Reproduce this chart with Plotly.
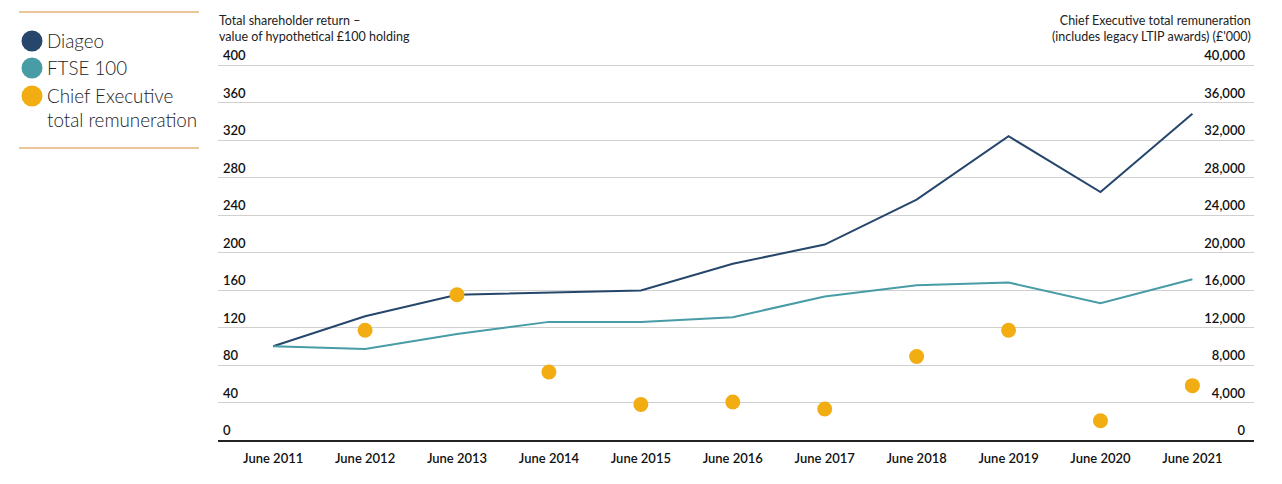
import plotly.graph_objects as go

years = ["June 2011", "June 2012", "June 2013", "June 2014", "June 2015", "June 2016",
         "June 2017", "June 2018", "June 2019", "June 2020", "June 2021"]
diageo = [100, 132, 155, 157.5, 159.5, 188, 208.5, 256.5, 324, 264.5, 348]
ftse = [100, 97, 113, 126, 126, 131, 153, 165, 168, 146, 171.5]
ceo_pay = [None, 11700, 15500, 7250, 3800, 4050, 3300, 8900, 11700, 2050, 5800]

left_ticks = [0, 40, 80, 120, 160, 200, 240, 280, 320, 360, 400]
right_ticks = [0, 4000, 8000, 12000, 16000, 20000, 24000, 28000, 32000, 36000, 40000]

legend_names = ["Diageo", "FTSE 100", "Chief Executive<br>total remuneration"]
NAVY = "#26466C"
TEAL = "#479CA5"
AMBER = "#F1AD12"
TAN = "#E3B274"
legend_colors = [NAVY, TEAL, AMBER]

FONT = "Lato, Open Sans, sans-serif"
xs = list(range(len(years)))

W, H = 1282, 484
L, R, T, B = 218, 28, 46, 44
pw, ph = W - L - R, H - T - B
px_per_unit = 375 / 400.0
ytop = ph / px_per_unit

fig = go.Figure()
fig.add_trace(go.Scatter(x=xs, y=diageo, mode="lines", line=dict(color=NAVY, width=2),
                         name="Diageo", showlegend=False))
fig.add_trace(go.Scatter(x=xs, y=ftse, mode="lines", line=dict(color=TEAL, width=2),
                         name="FTSE 100", showlegend=False))
fig.add_trace(go.Scatter(x=xs, y=ceo_pay, mode="markers", yaxis="y2",
                         marker=dict(color=AMBER, size=15),
                         name="Chief Executive total remuneration", showlegend=False))


def px_x(p):
    return (p - L) / pw


def px_y(p):
    return 1 - (p - T) / ph


shapes = []
annotations = []
for yy in (12, 148):
    shapes.append(dict(type="line", xref="paper", yref="paper",
                       x0=px_x(19), x1=px_x(199), y0=px_y(yy), y1=px_y(yy),
                       line=dict(color=TAN, width=1.3)))
rows = [41, 68, 96]
r = 10.5
for name, col, cy in zip(legend_names, legend_colors, rows):
    shapes.append(dict(type="circle", xref="paper", yref="paper",
                       x0=px_x(32 - r), x1=px_x(32 + r), y0=px_y(cy + r), y1=px_y(cy - r),
                       fillcolor=col, line=dict(width=0)))
    annotations.append(dict(xref="paper", yref="paper", x=px_x(45), y=px_y(cy - 14),
                            xanchor="left", yanchor="top", text=name, showarrow=False,
                            align="left", font=dict(family=FONT, size=18.8, color="#222",
                                                    weight=300)))
annotations.append(dict(xref="paper", yref="paper", x=px_x(217), y=px_y(11),
                        xanchor="left", yanchor="top", align="left", showarrow=False,
                        text="Total shareholder return –<br>value of hypothetical £100 holding",
                        font=dict(family=FONT, size=12.5, color="#222")))
annotations.append(dict(xref="paper", yref="paper", x=px_x(1253), y=px_y(11),
                        xanchor="right", yanchor="top", align="right", showarrow=False,
                        text="Chief Executive total remuneration<br>(includes legacy LTIP awards) (£'000)",
                        font=dict(family=FONT, size=12.5, color="#222")))

fig.update_layout(
    width=W, height=H,
    margin=dict(l=L, r=R, t=T, b=B, pad=0),
    paper_bgcolor="white", plot_bgcolor="white",
    showlegend=False,
    xaxis=dict(range=[-0.6, 10.67], tickvals=xs, ticktext=years, showgrid=False,
               zeroline=False, showline=True, linecolor="#222", linewidth=1.5,
               ticks="", ticklabelstandoff=6,
               tickfont=dict(family=FONT, size=13, color="#111", weight=600)),
    yaxis=dict(range=[0, ytop], tickvals=left_ticks, showgrid=True, gridcolor="#d0d0d0",
               gridwidth=1.3, zeroline=False, showline=False, ticks="",
               ticklabelposition="inside top", ticklabelstandoff=2,
               tickfont=dict(family=FONT, size=13, color="#111", weight=600)),
    yaxis2=dict(range=[0, ytop * 100], tickvals=right_ticks, tickformat=",", overlaying="y",
                side="right", showgrid=False, zeroline=False, showline=False, ticks="",
                ticklabelposition="inside top", ticklabelstandoff=6,
                tickfont=dict(family=FONT, size=13, color="#111", weight=600)),
    shapes=shapes, annotations=annotations,
)

fig.write_html("out.html")
